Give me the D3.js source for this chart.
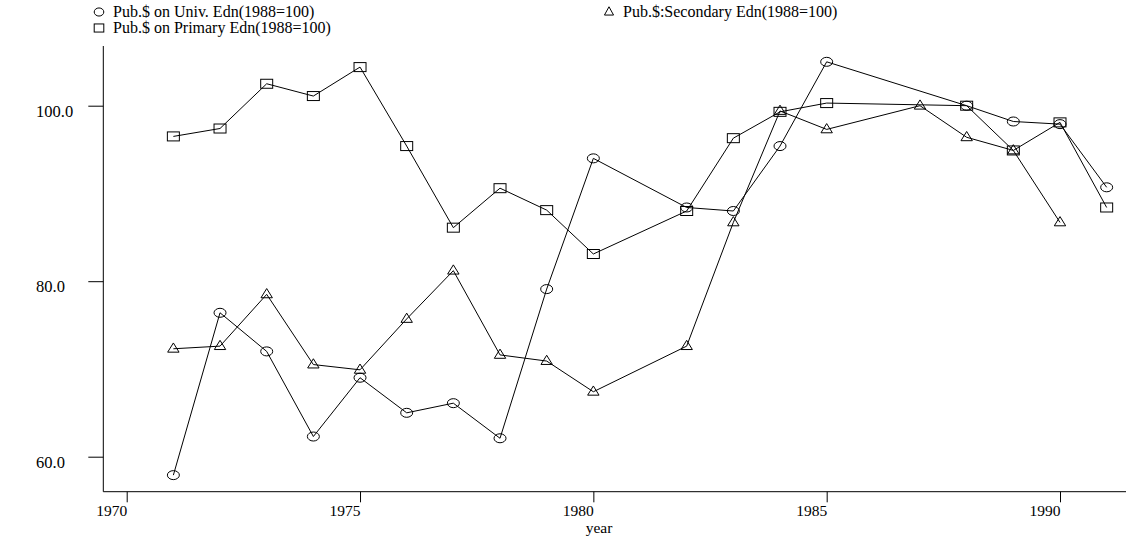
<!DOCTYPE html>
<html>
<head>
<meta charset="utf-8">
<script src="https://cdn.jsdelivr.net/npm/d3@7"></script>
<style>
  body { margin: 0; background: #fff; }
  text { font-family: "Liberation Serif", "Times New Roman", serif; fill: #000; }
</style>
</head>
<body>
<div id="chart"></div>
<script>
// data
const univYears = [1971, 1972, 1973, 1974, 1975, 1976, 1977, 1978, 1979, 1980, 1982, 1983, 1984, 1985, 1988, 1989, 1990, 1991];
const univValues = [57.9, 76.4, 72.0, 62.3, 69.0, 65.0, 66.1, 62.1, 79.1, 94.0, 88.4, 88.0, 95.4, 105.0, 100.0, 98.2, 97.9, 90.7];

const primaryYears = [1971, 1972, 1973, 1974, 1975, 1976, 1977, 1978, 1979, 1980, 1982, 1983, 1984, 1985, 1988, 1989, 1990, 1991];
const primaryValues = [96.5, 97.4, 102.5, 101.1, 104.4, 95.4, 86.1, 90.6, 88.1, 83.1, 88.0, 96.3, 99.3, 100.3, 100.0, 94.9, 98.1, 88.4];

const secondaryYears = [1971, 1972, 1973, 1974, 1975, 1976, 1977, 1978, 1979, 1980, 1982, 1983, 1984, 1985, 1987, 1988, 1989, 1990];
const secondaryValues = [72.3, 72.6, 78.5, 70.5, 69.9, 75.7, 81.2, 71.6, 70.9, 67.4, 72.6, 86.7, 99.4, 97.3, 100.0, 96.4, 94.9, 86.7];

const xTicks = [1970, 1975, 1980, 1985, 1990];
const yTicks = [60, 80, 100];

const legendLabels = [
  "Pub.$ on Univ. Edn(1988=100)",
  "Pub.$ on Primary Edn(1988=100)",
  "Pub.$:Secondary Edn(1988=100)"
];

const width = 1126, height = 543;

const svg = d3.select("#chart").append("svg")
  .attr("width", width)
  .attr("height", height);

// scales
const xScale = d3.scaleLinear().domain([1970, 1990]).range([126.7, 1060]);
const yScale = d3.scaleLinear().domain([60, 100]).range([456.7, 105.7]);

const axisX = 103.3, axisY = 491.7;

// axes
const xAxis = d3.axisBottom(xScale)
  .tickValues(xTicks)
  .tickSize(10.6)
  .tickSizeOuter(0)
  .tickFormat(d3.format("d"));

const xg = svg.append("g")
  .attr("transform", `translate(0,${axisY})`)
  .call(xAxis);
xg.select(".domain").remove();
xg.selectAll("line").attr("stroke", "#000");
xg.selectAll("text")
  .attr("text-anchor", "end")
  .attr("y", 24)
  .attr("dy", null)
  .style("font-size", "15.5px");

const yAxis = d3.axisLeft(yScale)
  .tickValues(yTicks)
  .tickSize(15)
  .tickSizeOuter(0)
  .tickFormat(d3.format(".1f"));

const yg = svg.append("g")
  .attr("transform", `translate(${axisX},0)`)
  .call(yAxis);
yg.select(".domain").remove();
yg.selectAll("line").attr("stroke", "#000");
yg.selectAll("text")
  .attr("text-anchor", "start")
  .attr("x", 36 - axisX)
  .attr("dy", "0.65em")
  .attr("y", 0)
  .style("font-size", "16.5px");

// axis lines
svg.append("line")
  .attr("x1", axisX).attr("x2", width)
  .attr("y1", axisY).attr("y2", axisY)
  .attr("stroke", "#000");
svg.append("line")
  .attr("x1", axisX).attr("x2", axisX)
  .attr("y1", 46).attr("y2", axisY)
  .attr("stroke", "#000");

svg.append("text")
  .attr("x", 599)
  .attr("y", 533)
  .attr("text-anchor", "middle")
  .style("font-size", "15.5px")
  .text("year");

// marker shapes (slightly wider than tall like the original)
function marker(sel, kind, sx, sy) {
  if (kind === "circle") {
    sel.append("ellipse").attr("rx", 6 * sx).attr("ry", 4.5 * sy);
  } else if (kind === "square") {
    sel.append("rect")
      .attr("x", -6 * sx).attr("y", -4.5 * sy)
      .attr("width", 12 * sx).attr("height", 9 * sy);
  } else {
    sel.append("path")
      .attr("d", `M0,${-5.8 * sy}L${5.7 * sx},${3.4 * sy}L${-5.7 * sx},${3.4 * sy}Z`);
  }
  sel.selectAll("*").attr("fill", "none").attr("stroke", "#000").attr("stroke-width", 1);
}

const series = [
  { years: univYears, values: univValues, kind: "circle" },
  { years: primaryYears, values: primaryValues, kind: "square" },
  { years: secondaryYears, values: secondaryValues, kind: "triangle" }
];

const line = d3.line()
  .x(d => xScale(d[0]))
  .y(d => yScale(d[1]));

series.forEach(s => {
  const pts = s.years.map((y, i) => [y, s.values[i]]);
  svg.append("path")
    .datum(pts)
    .attr("d", line)
    .attr("fill", "none")
    .attr("stroke", "#000")
    .attr("stroke-width", 1);

  svg.append("g").selectAll("g")
    .data(pts)
    .join("g")
    .attr("transform", d => `translate(${xScale(d[0])},${yScale(d[1])})`)
    .each(function () { marker(d3.select(this), s.kind, 1, 1); });
});

// legend
const legendItems = [
  { x: 99, y: 12, kind: "circle", label: legendLabels[0] },
  { x: 99, y: 28, kind: "square", label: legendLabels[1] },
  { x: 609, y: 12, kind: "triangle", label: legendLabels[2] }
];

legendItems.forEach(it => {
  const g = svg.append("g").attr("transform", `translate(${it.x},${it.y})`);
  marker(g, it.kind, 0.8, 0.9);
  g.append("text")
    .attr("x", 14)
    .attr("y", 5)
    .style("font-size", "16px")
    .text(it.label);
});
</script>
</body>
</html>
